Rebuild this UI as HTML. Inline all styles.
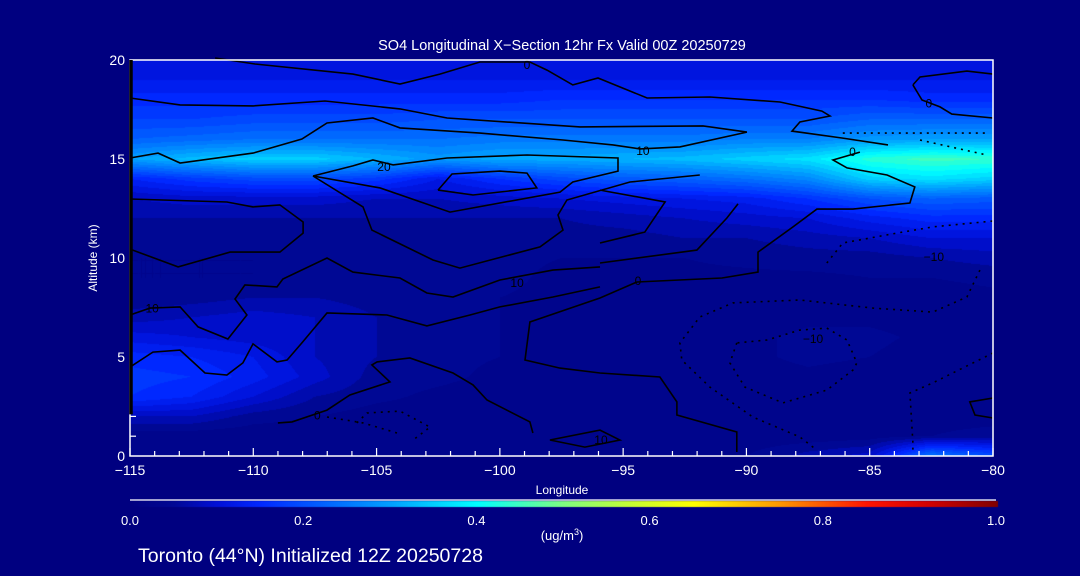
<!DOCTYPE html>
<html><head><meta charset="utf-8"><style>
html,body{margin:0;padding:0;background:#000080;}
#wrap{position:relative;width:1080px;height:576px;background:#000080;overflow:hidden;font-family:"Liberation Sans",sans-serif;}
canvas{position:absolute;left:0;top:0;}
svg{position:absolute;left:0;top:0;}
text{font-family:"Liberation Sans",sans-serif;fill:#fff;}
</style></head><body>
<div id="wrap">
<canvas id="fill" width="1080" height="576"></canvas>
<svg id="svg" width="1080" height="576"></svg>
</div>
<script>
// ---- data ----
const lons = [-115,-112.5,-110,-107.5,-105,-102.5,-100,-97.5,-95,-92.5,-90,-87.5,-85,-82.5,-80];
const alts = [20,19,18,17,16,15,14,13,12,11,10,9,8,7,6,5,4,3,2,1,0];
const row20=[.10,.10,.10,.10,.10,.10,.10,.10,.10,.10,.10,.10,.10,.10,.10];
const row19=[.12,.12,.12,.12,.12,.12,.12,.12,.12,.12,.12,.12,.12,.12,.12];
const row18=[.15,.15,.15,.15,.15,.15,.15,.16,.16,.16,.16,.16,.16,.15,.15];
const row17=[.18,.18,.19,.19,.19,.20,.20,.20,.20,.20,.20,.20,.22,.22,.22];
const row16=[.22,.23,.24,.24,.24,.24,.25,.25,.25,.25,.26,.26,.29,.30,.30];
const row15=[.30,.33,.35,.35,.32,.29,.31,.31,.32,.33,.35,.37,.43,.45,.44];
const row14=[.14,.17,.19,.19,.17,.12,.16,.19,.21,.22,.24,.27,.35,.37,.35];
const row13=[.08,.09,.09,.09,.08,.08,.09,.10,.11,.12,.13,.16,.20,.22,.21];
const row12=[.06,.06,.06,.06,.06,.06,.06,.06,.07,.08,.09,.10,.13,.15,.15];
const row11=[.05,.05,.05,.05,.05,.05,.05,.05,.05,.06,.06,.07,.08,.10,.10];
const row10=[.04,.04,.04,.045,.05,.055,.045,.04,.04,.04,.045,.05,.05,.06,.07];
const row9 =[.04,.04,.04,.045,.05,.055,.045,.035,.035,.035,.035,.035,.04,.04,.045];
const row8 =[.045,.05,.06,.06,.05,.05,.04,.035,.035,.03,.03,.03,.03,.03,.035];
const row7 =[.07,.08,.09,.08,.06,.05,.04,.035,.035,.03,.03,.035,.035,.03,.03];
const row6 =[.11,.10,.09,.08,.06,.05,.04,.035,.035,.03,.035,.045,.045,.035,.03];
const row5 =[.15,.14,.12,.08,.06,.045,.04,.035,.035,.03,.035,.045,.04,.03,.03];
const row4 =[.17,.16,.13,.09,.05,.045,.035,.03,.035,.035,.03,.035,.03,.03,.03];
const row3 =[.16,.14,.10,.06,.045,.035,.03,.03,.035,.035,.03,.03,.03,.03,.03];
const row2 =[.08,.08,.05,.04,.03,.03,.03,.03,.03,.03,.03,.03,.03,.03,.03];
const row1 =[.025,.025,.025,.025,.025,.025,.025,.025,.025,.025,.025,.025,.03,.04,.05];
const row0 =[.025,.025,.025,.025,.025,.025,.025,.03,.03,.04,.04,.07,.09,.25,.2];
const grid=[row20,row19,row18,row17,row16,row15,row14,row13,row12,row11,row10,row9,row8,row7,row6,row5,row4,row3,row2,row1,row0];

const xTicks=[-115,-110,-105,-100,-95,-90,-85,-80];
const xTickLabels=["\u2212115","\u2212110","\u2212105","\u2212100","\u221295","\u221290","\u221285","\u221280"];
const yTicks=[0,5,10,15,20];
const cbTicks=[0,0.2,0.4,0.6,0.8,1.0];
const cbTickLabels=["0.0","0.2","0.4","0.6","0.8","1.0"];

// contour lines [lon,alt]
const cTop=[[-111.55,20.1],[-109.93,19.8],[-105.96,19.29],[-104.05,18.79],[-102.43,19.29],[-100.81,19.9],[-98.78,19.9],[-98.09,19.49],[-97.04,18.74],[-96.02,19.09],[-94.03,18.08],[-91.48,18.13],[-88.64,17.88],[-86.94,17.42],[-86.61,17.17],[-87.83,16.87],[-88.15,16.41],[-86.13,16.06],[-84.26,15.71]];
const cTopRight=[[-83.25,18.74],[-82.96,19.14],[-81.06,19.44],[-80,19.29]];
const cTopRight2=[[-83.25,18.74],[-82.88,17.98],[-82.15,17.63],[-81.67,17.27],[-80,17.07]];
const cZero=[[-85.40,15.35],[-86.49,14.95],[-85.92,14.55],[-84.30,14.19],[-83.17,13.59],[-83.37,12.78],[-85.68,12.47],[-87.14,12.47],[-88.11,11.57],[-89.53,10.30],[-89.53,9.29],[-90.99,8.99],[-94.44,8.79],[-95.94,7.98],[-98.78,6.77],[-98.98,4.85],[-97.56,4.44],[-95.94,4.19],[-93.51,3.99],[-92.82,2.73],[-92.82,2.07],[-90.39,1.21],[-90.39,0.2]];
const cLoop=[[-115,18.08],[-112.97,17.73],[-110.01,17.68],[-107.09,17.93],[-104.05,17.53],[-102.14,17.07],[-96.75,16.62],[-91.76,16.67],[-89.98,16.36],[-92.70,15.61],[-94.32,15.51],[-95.41,15.71],[-97.44,15.96],[-100.81,16.31],[-104.05,16.57],[-105.15,17.07],[-107.01,16.82],[-108.03,16.01],[-110.01,15.30],[-112.97,14.80],[-113.86,15.30],[-115,15.05]];
const c20=[[-107.58,14.14],[-105.96,14.65],[-105.15,14.95],[-104.33,14.70],[-102.14,15.05],[-98.90,15.20],[-95.21,15.05],[-95.21,14.39],[-97.04,13.84],[-97.56,13.33],[-102.02,12.32],[-104.86,13.54],[-107.58,14.14]];
const c20inner=[[-102.51,13.43],[-101.94,14.24],[-100.0,14.39],[-98.9,14.29],[-98.5,13.54],[-101.09,13.18],[-102.51,13.43]];
const cMid=[[-107.58,14.14],[-105.55,12.58],[-105.19,11.41],[-102.71,9.90],[-101.62,9.49],[-98.37,10.56],[-97.44,11.41],[-97.64,12.17],[-97.28,12.93],[-94.72,13.84],[-91.89,14.19]];
const cTen=[[-115,7.12],[-114.19,7.47],[-112.97,7.53],[-112.24,6.52],[-111.03,5.91],[-110.26,7.12],[-110.74,7.93],[-110.34,8.64],[-109.04,8.54],[-108.80,8.94],[-107.01,10.0],[-105.96,9.29],[-104.05,8.99],[-102.96,8.23],[-101.90,8.03],[-100.0,8.89],[-97.85,9.39],[-95.94,9.55]];
const cFive=[[-115,4.49],[-114.07,5.25],[-112.97,5.35],[-111.96,4.19],[-111.07,4.09],[-110.42,4.70],[-110.01,5.66],[-109.04,4.75],[-108.63,4.85],[-108.03,5.71],[-107.01,7.22],[-104.58,7.12],[-102.96,6.57],[-101.21,7.12],[-100.0,7.53],[-97.85,8.03],[-95.94,8.54]];
const cUpperLeft=[[-115,12.98],[-111.07,12.83],[-110.01,12.58],[-108.92,12.68],[-107.98,11.82],[-107.98,11.26],[-108.92,10.30],[-110.94,10.30],[-113.05,9.55],[-115,10.45]];
const cLowLeft=[[-109.0,1.67],[-108.43,1.72],[-107.01,2.32],[-106.08,3.08],[-104.46,3.74],[-105.19,4.60],[-104.98,4.75],[-103.65,4.95],[-101.90,4.19],[-101.09,3.59],[-100.52,2.83],[-98.78,1.72],[-98.66,1.16]];
const cA=[[-95.94,13.43],[-93.3,12.83],[-94.12,11.31],[-95.94,10.76]];
const cB=[[-90.34,12.73],[-90.79,12.02],[-92.01,10.40],[-95.94,9.75]];
const cRight=[[-80,2.93],[-80.94,2.73],[-80.73,2.07],[-80,1.92]];
const cSmall=[[-97.97,0.81],[-95.94,1.31],[-95.13,0.81],[-96.55,0.45],[-97.97,0.81]];
const dOuter=[[-80.53,9.39],[-81.06,8.03],[-82.44,7.27],[-84.87,7.47],[-87.83,7.88],[-90.55,7.73],[-91.89,7.02],[-92.70,5.71],[-92.62,4.85],[-91.48,3.48],[-89.74,1.97],[-87.83,0.96],[-87.14,0.30]];
const dRight=[[-80,5.2],[-82.44,3.69],[-83.37,3.18],[-83.25,0.66],[-83.25,0.2]];
const dInner=[[-90.39,5.71],[-90.67,4.70],[-90.06,3.48],[-88.52,2.68],[-86.74,3.33],[-85.68,4.34],[-85.52,4.70],[-85.92,5.86],[-86.74,6.46],[-87.83,6.36],[-89.17,5.86],[-90.39,5.71]];
const dUpper=[[-86.74,9.75],[-86.09,10.76],[-83.90,11.26],[-82.44,11.57],[-80,11.87]];
const dHigh1=[[-86.09,16.31],[-80.25,16.31]];
const dHigh2=[[-82.96,15.96],[-80.25,15.20]];
const dLowA=[[-107.01,1.97],[-105.55,1.67],[-104.17,1.16]];
const dLowB=[[-105.80,1.67],[-105.39,2.17],[-104.05,2.27],[-102.83,1.46],[-103.52,0.81]];
const solidLines=[cTop,cTopRight,cTopRight2,cZero,cLoop,c20,c20inner,cMid,cTen,cFive,cUpperLeft,cLowLeft,cA,cB,cRight,cSmall];
const dottedLines=[dOuter,dRight,dInner,dUpper,dHigh1,dHigh2,dLowA,dLowB];
const labelText=["0","0","0","10","20","10","10","0","0","\u221210","\u221210","10"];
const labelLon=[-98.9,-85.7,-82.6,-94.2,-104.7,-114.1,-99.3,-94.4,-107.4,-87.3,-82.4,-95.9];
const labelAlt=[19.75,15.35,17.8,15.4,14.6,7.45,8.75,8.85,2.05,5.9,10.05,0.8];

// ---- axes ----
const X0=130,X1=993,Y0=456,Y1=60;
function X(lon){return X0+(lon+115)/35*(X1-X0);}
function Y(alt){return Y0-alt/20*(Y0-Y1);}

// colormap
const cmStops=[[0,[0,0,128]],[0.05,[0,8,148]],[0.1,[0,16,215]],[0.15,[0,40,255]],[0.2,[0,80,255]],[0.3,[0,160,255]],[0.4,[0,255,255]],[0.5,[128,255,128]],[0.58,[200,255,48]],[0.65,[255,255,0]],[0.75,[255,150,0]],[0.85,[255,20,0]],[0.92,[210,0,0]],[1,[128,0,0]]];
function cmap(v){
  v=Math.max(0,Math.min(1,v));
  for(let i=1;i<cmStops.length;i++){
    if(v<=cmStops[i][0]){const a=cmStops[i-1],b=cmStops[i];const t=(v-a[0])/(b[0]-a[0]);
      return [0,1,2].map(k=>Math.round(a[1][k]+(b[1][k]-a[1][k])*t));}
  }
  return cmStops[cmStops.length-1][1];
}

// ---- fill ----
const cv=document.getElementById('fill');const ctx=cv.getContext('2d');
const img=ctx.createImageData(X1-X0,Y0-Y1);
for(let py=0;py<Y0-Y1;py++){
  const alt=(Y0-(Y1+py+0.5))/(Y0-Y1)*20;
  const fr=(20-alt)/1; const r0=Math.max(0,Math.min(19,Math.floor(fr))); const tr=Math.max(0,Math.min(1,fr-r0));
  for(let px=0;px<X1-X0;px++){
    const lon=-115+(px+0.5)/(X1-X0)*35;
    const fc=(lon+115)/2.5; const c0=Math.max(0,Math.min(13,Math.floor(fc))); const tc=Math.max(0,Math.min(1,fc-c0));
    const v=(grid[r0][c0]*(1-tc)+grid[r0][c0+1]*tc)*(1-tr)+(grid[r0+1][c0]*(1-tc)+grid[r0+1][c0+1]*tc)*tr;
    const q=Math.floor(v/0.02)*0.02+0.01;
    const c=cmap(q);const i=(py*(X1-X0)+px)*4;
    img.data[i]=c[0];img.data[i+1]=c[1];img.data[i+2]=c[2];img.data[i+3]=255;
  }
}
ctx.putImageData(img,X0,Y1);
// colorbar
const cb=ctx.createImageData(868,6);
for(let px=0;px<868;px++){const c=cmap(px/867);for(let py=0;py<6;py++){const i=(py*868+px)*4;cb.data[i]=c[0];cb.data[i+1]=c[1];cb.data[i+2]=c[2];cb.data[i+3]=255;}}
ctx.putImageData(cb,130,501);

// ---- svg ----
const NS='http://www.w3.org/2000/svg';const svg=document.getElementById('svg');
function mk(tag,attrs,parent){const e=document.createElementNS(NS,tag);for(const k in attrs)e.setAttribute(k,attrs[k]);(parent||svg).appendChild(e);return e;}
function pts(a){return a.map(p=>X(p[0]).toFixed(1)+','+Y(p[1]).toFixed(1)).join(' ');}
solidLines.forEach((l)=>{const e=mk('polyline',{points:pts(l),fill:'none',stroke:'#000',"stroke-width":1.6});

});
dottedLines.forEach((l)=>{const e=mk('polyline',{points:pts(l),fill:'none',stroke:'#000',"stroke-width":1.6,"stroke-dasharray":"2 5"});

});
labelText.forEach((t,i)=>{const e=mk('text',{x:X(labelLon[i]),y:Y(labelAlt[i])+4,"font-size":12,"text-anchor":"middle",style:"fill:#000"});e.textContent=t;

});

// frame
const fr=mk('path',{d:`M${X0},${Y1} H${X1} V${Y0} H${X0} Z`,fill:'none',stroke:'#fff',"stroke-width":1.5});


const lb=mk('line',{x1:X0+1,y1:Y1,x2:X0+1,y2:Y(2.1),stroke:'#000',"stroke-width":3.5});


// x ticks
for(let lon=-115;lon<=-80;lon++){const major=(lon%5===0);
  const t=mk('line',{x1:X(lon),y1:Y0,x2:X(lon),y2:Y0-(major?8:5),stroke:'#fff',"stroke-width":1.2});
  
  }
xTicks.forEach((v,i)=>{const e=mk('text',{x:X(v),y:Y0+19,"font-size":14,"text-anchor":"middle"});e.textContent=xTickLabels[i];

});
for(let a=1;a<=2;a++){const t=mk('line',{x1:X0,y1:Y(a),x2:X0+6,y2:Y(a),stroke:'#fff',"stroke-width":1.2});

}
yTicks.forEach(v=>{const e=mk('text',{x:X0-5,y:Y(v)+5,"font-size":14,"text-anchor":"end"});e.textContent=String(v);

});
// titles
let e=mk('text',{x:562,y:50,"font-size":14.5,"text-anchor":"middle"});e.textContent='SO4 Longitudinal X\u2212Section 12hr  Fx Valid 00Z 20250729';


e=mk('text',{x:0,y:0,"font-size":12,"text-anchor":"middle",transform:'translate(97,258) rotate(-90)'});e.textContent='Altitude (km)';


e=mk('text',{x:562,y:494,"font-size":12,"text-anchor":"middle"});e.textContent='Longitude';


// colorbar
e=mk('line',{x1:130,y1:500,x2:996,y2:500,stroke:'#fff',"stroke-width":1.2});


cbTicks.forEach((v,i)=>{const t=mk('text',{x:130+v*866,y:525,"font-size":13,"text-anchor":"middle"});t.textContent=cbTickLabels[i];

});
e=mk('text',{x:562,y:540,"font-size":13,"text-anchor":"middle"});e.innerHTML='(ug/m<tspan dy="-5" font-size="9">3</tspan><tspan dy="5">)</tspan>';


e=mk('text',{x:138,y:562,"font-size":19.5});e.textContent='Toronto (44\u00B0N) Initialized 12Z 20250728';


</script>
</body></html>
